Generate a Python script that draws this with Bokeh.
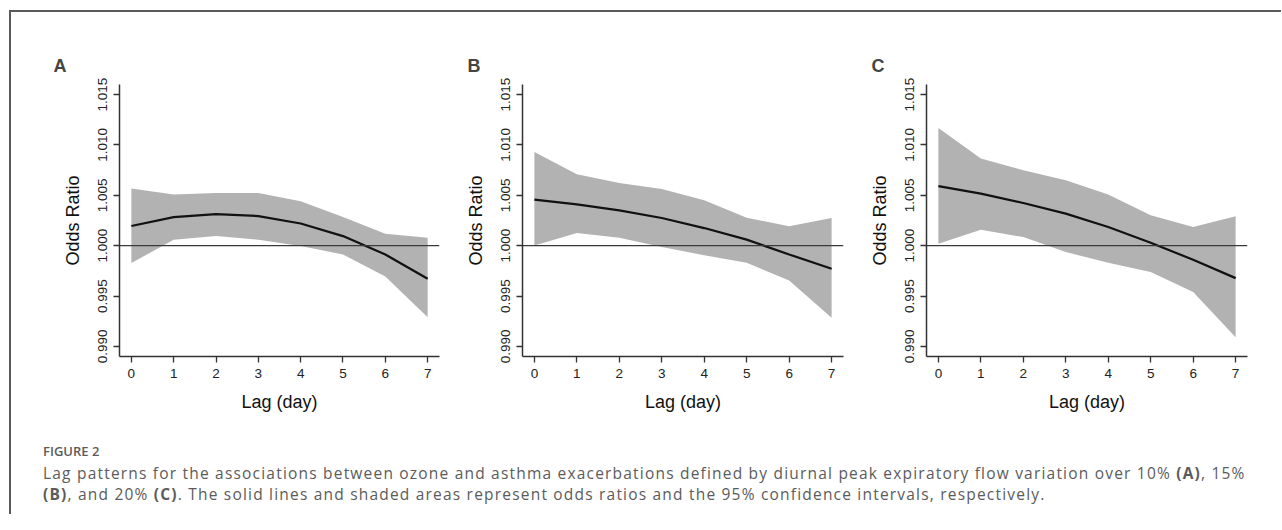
from bokeh.plotting import figure
from bokeh.models import Range1d, FixedTicker, Span, Div, PrintfTickFormatter
from bokeh.layouts import column, row
from bokeh.embed import file_html
from bokeh.resources import INLINE

# ---- data ----
lags = [0, 1, 2, 3, 4, 5, 6, 7]
y_ticks = [0.990, 0.995, 1.000, 1.005, 1.010, 1.015]

or_a = [1.00195, 1.00284, 1.00314, 1.00294, 1.00220, 1.00095, 0.99913, 0.99672]
up_a = [1.00567, 1.00507, 1.00523, 1.00523, 1.00440, 1.00284, 1.00119, 1.00080]
lo_a = [0.99827, 1.00060, 1.00095, 1.00060, 0.99996, 0.99913, 0.99695, 0.99290]

or_b = [1.00457, 1.00410, 1.00350, 1.00275, 1.00175, 1.00060, 0.99913, 0.99771]
up_b = [1.00930, 1.00709, 1.00622, 1.00563, 1.00450, 1.00278, 1.00192, 1.00275]
lo_b = [1.00003, 1.00125, 1.00080, 0.99987, 0.99904, 0.99830, 0.99655, 0.99284]

or_c = [1.00592, 1.00517, 1.00424, 1.00318, 1.00185, 1.00030, 0.99860, 0.99678]
up_c = [1.01169, 1.00865, 1.00748, 1.00649, 1.00507, 1.00301, 1.00185, 1.00291]
lo_c = [1.00020, 1.00159, 1.00085, 0.99937, 0.99831, 0.99738, 0.99540, 0.99092]

panel_letters = ["A", "B", "C"]
x_label = "Lag (day)"
y_label = "Odds Ratio"

FONT = "Liberation Sans"


def panel(letter, mean, lo, hi, width, bl, br, title_offset):
    p = figure(width=width, height=408,
               x_range=Range1d(-0.28, 7.28), y_range=Range1d(0.989, 1.016),
               output_backend="svg", toolbar_location=None,
               min_border_left=bl, min_border_right=br,
               min_border_top=72, min_border_bottom=64,
               title=letter, background_fill_color="white",
               border_fill_color="white")
    p.outline_line_color = None
    p.xgrid.visible = False
    p.ygrid.visible = False

    p.varea(x=lags, y1=lo, y2=hi, fill_color="#b2b2b2", fill_alpha=1.0)
    p.add_layout(Span(location=1.0, dimension="width", line_color="#3a3a3a",
                      line_width=1.2))
    p.line(lags, mean, line_color="#111111", line_width=2.2)

    p.title.text_font = FONT
    p.title.text_font_size = "18px"
    p.title.text_font_style = "bold"
    p.title.align = "left"
    p.title.offset = title_offset
    p.title.standoff = 18

    for ax in (p.xaxis[0], p.yaxis[0]):
        ax.axis_line_color = "#333333"
        ax.axis_line_width = 1.5
        ax.major_tick_line_color = "#333333"
        ax.major_tick_line_width = 1.3
        ax.major_tick_out = 6
        ax.major_tick_in = 0
        ax.minor_tick_line_color = None
        ax.major_label_text_font = FONT
        ax.major_label_text_font_size = "13.5px"
        ax.major_label_text_color = "#222222"
        ax.axis_label_text_font = FONT
        ax.axis_label_text_font_size = "18px"
        ax.axis_label_text_font_style = "normal"
        ax.axis_label_text_color = "#111111"

    p.xaxis.ticker = FixedTicker(ticks=lags)
    p.xaxis.axis_label = x_label
    p.xaxis.major_label_standoff = 6
    p.xaxis.axis_label_standoff = 11

    p.yaxis.ticker = FixedTicker(ticks=y_ticks)
    p.yaxis.formatter = PrintfTickFormatter(format="%.3f")
    p.yaxis.major_label_orientation = "vertical"
    p.yaxis.axis_label = y_label
    p.yaxis.major_label_standoff = 6
    p.yaxis.axis_label_standoff = 13
    return p


pa = panel(panel_letters[0], or_a, lo_a, up_a, 447, 108, 19, -66)
pb = panel(panel_letters[1], or_b, lo_b, up_b, 402, 64, 17, -55)
pc = panel(panel_letters[2], or_c, lo_c, up_c, 414, 66, 27, -55)

caption_html = (
    '<div style="font-family:\'Open Sans\'; color:#5b5b5b; padding-left:27px;">'
    '<div style="font-size:13px; font-weight:600; line-height:16px; margin-top:18px; margin-bottom:4px;">FIGURE 2</div>'
    '<div style="font-size:15.5px; letter-spacing:1.2px; line-height:21px; white-space:nowrap;">'
    'Lag patterns for the associations between ozone and asthma exacerbations defined by '
    'diurnal peak expiratory flow variation over 10% <b>(A)</b>, 15%<br>'
    '<b>(B)</b>, and 20% <b>(C)</b>. The solid lines and shaded areas represent odds ratios '
    'and the 95% confidence intervals, respectively.</div></div>'
)
caption = Div(text=caption_html, width=1260, height=84)

layout = column(row(pa, pb, pc), caption, margin=(10, 0, 0, 9),
                styles={"border-top": "2px solid #5a5a5a",
                        "border-left": "2px solid #5a5a5a",
                        "background": "white"})

open("out.html", "w").write(file_html(layout, INLINE))
